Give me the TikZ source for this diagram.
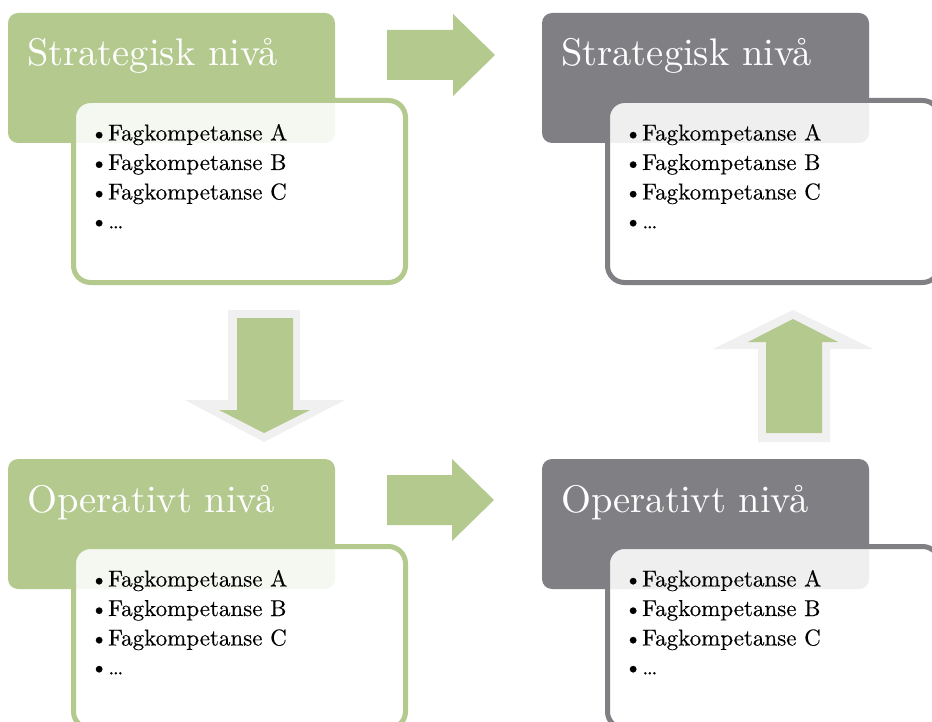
\documentclass[tikz,border=0pt]{standalone}
\usepackage{fontspec}
\newfontfamily\titlefont[Extension=.otf]{lmroman10-regular}
\newfontfamily\bodyfont[Extension=.otf, FakeBold=0.25]{lmroman10-regular}
\definecolor{grn}{RGB}{179,201,142}
\definecolor{gry}{RGB}{128,127,132}
\definecolor{glow}{RGB}{240,240,240}
\tikzset{
  titlebox/.style={fill=#1, rounded corners=10pt},
  listbox/.style={draw=#1, line width=5pt, fill=white, fill opacity=0.88, draw opacity=1, rounded corners=17pt},
  titletext/.style={anchor=base west, inner sep=0pt, text=white, font=\titlefont\fontsize{38.5}{42}\selectfont},
  itemtext/.style={anchor=base west, inner sep=0pt, text=black, font=\bodyfont\fontsize{23}{27}\selectfont},
  arrowfill/.style={fill=grn},
  arrowglow/.style={fill=glow},
}
\newcommand\levelpanel[5]{%
  \begin{scope}[shift={(#1,#2)}]
    \fill[titlebox=#3] (8,13) rectangle (335,143);
    \draw[listbox=#3] (73.5,100.5) rectangle (405.5,282.5);
    \node[titletext] (#5title) at (27,66) {#4};
    \node[itemtext] (#5a) at (90,140.5) {\textbullet Fagkompetanse A};
    \node[itemtext] (#5b) at (90,170) {\textbullet Fagkompetanse B};
    \node[itemtext] (#5c) at (90,199.5) {\textbullet Fagkompetanse C};
    \node[itemtext] (#5d) at (90,228.5) {\textbullet …};
  \end{scope}}
\begin{document}
\begin{tikzpicture}[x=1pt,y=-1pt]
  \useasboundingbox (0,0) rectangle (932,722);
  \clip (0,0) rectangle (932,722);
  \fill[white] (0,0) rectangle (932,722);
  \levelpanel{0}{0}{grn}{Strategisk nivå}{sl}
  \levelpanel{534}{0}{gry}{Strategisk nivå}{sr}
  \levelpanel{0}{446}{grn}{Operativt nivå}{ol}
  \levelpanel{534}{446}{gry}{Operativt nivå}{or}
  % right arrows
  \fill[arrowfill] (387,30) -- (453,30) -- (453,14) -- (495,55) -- (453,96) -- (453,80) -- (387,80) -- cycle;
  \fill[arrowfill] (387,475) -- (452,475) -- (452,459) -- (494,500) -- (452,541) -- (452,525) -- (387,525) -- cycle;
  % down arrow
  \fill[arrowglow] (228,310) -- (300,310) -- (300,400) -- (345,400) -- (264,442) -- (185,400) -- (228,400) -- cycle;
  \fill[arrowfill] (237,318) -- (293,318) -- (293,410) -- (310,410) -- (264,433) -- (219,410) -- (237,410) -- cycle;
  % up arrow
  \fill[arrowglow] (758,442) -- (830,442) -- (830,349) -- (873,349) -- (793,310) -- (713,349) -- (758,349) -- cycle;
  \fill[arrowfill] (766,433) -- (822,433) -- (822,342) -- (838,342) -- (793,319) -- (748,342) -- (766,342) -- cycle;
\end{tikzpicture}
\end{document}
